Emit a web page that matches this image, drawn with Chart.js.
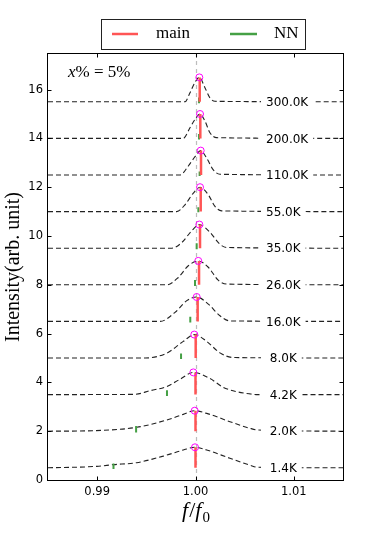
<!DOCTYPE html>
<html>
<head>
<meta charset="utf-8">
<script src="https://cdn.jsdelivr.net/npm/chart.js@4"></script>
<style>
  html, body { margin: 0; padding: 0; background: #fff; }
</style>
</head>
<body>
<canvas id="chart" width="382" height="534"></canvas>
<script>
// temperatures (K) and the vertical offset of each trace
const temps = [1.4, 2.0, 4.2, 8.0, 16, 26, 35, 55, 110, 200, 300];
const baselines = [0.5, 2.0, 3.5, 5.0, 6.5, 8.0, 9.5, 11.0, 12.5, 14.0, 15.5];

// fitted line shapes, [f/f0, intensity]
const fit1p4K = [[0.985, 0.5], [0.98997, 0.56], [0.99166, 0.63], [0.99401, 0.71], [0.99708, 1.02], [0.99876, 1.23], [0.99995, 1.34], [1.00114, 1.23], [1.0035, 0.89], [1.00553, 0.61], [1.00634, 0.52], [1.015, 0.5]];
const fit2p0K = [[0.985, 2.0], [0.9895, 2.02], [0.99403, 2.16], [0.99708, 2.46], [0.99876, 2.69], [0.99992, 2.84], [1.00114, 2.73], [1.0035, 2.39], [1.00553, 2.12], [1.00634, 2.05], [1.015, 2.0]];
const fit4p2K = [[0.985, 3.5], [0.9938, 3.51], [0.99538, 3.66], [0.99708, 3.83], [0.99843, 4.13], [0.99978, 4.41], [1.00147, 4.16], [1.00282, 3.8], [1.00418, 3.62], [1.00553, 3.53], [1.00634, 3.5], [1.015, 3.5]];
const fit8p0K = [[0.985, 5.0], [0.9949, 5.0], [0.99708, 5.2], [0.99876, 5.68], [0.99988, 5.96], [1.00114, 5.68], [1.00249, 5.21], [1.00384, 5.02], [1.015, 5.0]];
const fit16K = [[0.985, 6.5], [0.9964, 6.5], [0.99792, 6.87], [0.99911, 7.35], [1.00012, 7.5], [1.0013, 7.21], [1.00249, 6.73], [1.0035, 6.52], [1.015, 6.5]];
const fit26K = [[0.985, 8.0], [0.99708, 8.0], [0.99825, 8.3], [0.99927, 8.78], [1.00028, 8.98], [1.0013, 8.72], [1.00231, 8.19], [1.00317, 8.03], [1.015, 8.0]];
const fit35K = [[0.985, 9.5], [0.99758, 9.5], [0.9986, 9.73], [0.99961, 10.21], [1.00039, 10.47], [1.00147, 10.15], [1.00249, 9.66], [1.00317, 9.53], [1.015, 9.5]];
const fit55K = [[0.985, 11.0], [0.99809, 11.0], [0.99893, 11.28], [0.99978, 11.76], [1.00046, 12.0], [1.0013, 11.69], [1.00198, 11.21], [1.00266, 11.03], [1.015, 11.0]];
const fit110K = [[0.985, 12.5], [0.99843, 12.5], [0.99927, 12.87], [0.99995, 13.25], [1.00053, 13.5], [1.00114, 13.19], [1.00181, 12.71], [1.00249, 12.53], [1.015, 12.5]];
const fit200K = [[0.985, 14.0], [0.99876, 14.0], [0.99944, 14.44], [0.99995, 14.78], [1.00046, 15.0], [1.00096, 14.71], [1.00147, 14.23], [1.00215, 14.03], [1.015, 14.0]];
const fit300K = [[0.985, 15.5], [0.99893, 15.5], [0.99944, 15.87], [0.99995, 16.3], [1.00039, 16.5], [1.00096, 16.08], [1.00147, 15.66], [1.00198, 15.52], [1.015, 15.5]];
const curves = [fit1p4K, fit2p0K, fit4p2K, fit8p0K, fit16K, fit26K, fit35K, fit55K, fit110K, fit200K, fit300K];

// peak maxima (circles)
const peakF = [0.99995, 0.99992, 0.99978, 0.99988, 1.00012, 1.00028, 1.00039, 1.00046, 1.00053, 1.00046, 1.00039];
const peakV = [1.34, 2.84, 4.41, 5.96, 7.5, 8.98, 10.47, 12.0, 13.5, 15.0, 16.5];

// main line position (bar from baseline to peak)
const mainF = [1.0, 1.0, 1.0, 1.00002, 1.00022, 1.00036, 1.00046, 1.00053, 1.00056, 1.00049, 1.00043];

// nearest-neighbour line
const nnF = [0.99166, 0.99396, 0.9971, 0.99853, 0.99947, 0.99995, 1.00012, 1.00029, 1.00042, 1.00036, 1.00036];
const nnLo = [0.45, 1.95, 3.44, 4.96, 6.46, 7.95, 9.46, 10.97, 12.46, 13.96, 15.44];
const nnHi = [0.68, 2.21, 3.68, 5.18, 6.69, 8.2, 9.7, 11.18, 12.64, 14.18, 15.68];

const xTicks = [0.99, 1.0, 1.01];
const yTicks = [0, 2, 4, 6, 8, 10, 12, 14, 16];

const mainColor = '#ff5555';
const nnColor = '#45a045';
const labelF = 1.00717;

function bars(xs, lo, hi) {
  const out = [];
  xs.forEach((f, i) => {
    out.push({ x: f, y: lo[i] }, { x: f, y: hi[i] }, { x: f, y: null });
  });
  return out;
}

const datasets = [
  {
    type: 'scatter',
    data: peakF.map((f, i) => ({ x: f, y: peakV[i] })),
    pointRadius: 3.5,
    pointBorderWidth: 1,
    pointBorderColor: '#ff00ff',
    pointBackgroundColor: 'rgba(0,0,0,0)'
  },
  {
    type: 'line',
    data: bars(mainF, baselines, peakV),
    borderColor: mainColor,
    borderWidth: 2.5,
    borderCapStyle: 'butt',
    pointRadius: 0,
    spanGaps: false
  },
  {
    type: 'line',
    data: bars(nnF, nnLo, nnHi),
    borderColor: nnColor,
    borderWidth: 2,
    borderCapStyle: 'butt',
    pointRadius: 0,
    spanGaps: false
  }
];

curves.forEach((c) => {
  datasets.push({
    type: 'line',
    data: c.map(([f, v]) => ({ x: f, y: v })),
    borderColor: '#222',
    borderWidth: 1.1,
    borderDash: [5, 3],
    pointRadius: 0,
    cubicInterpolationMode: 'monotone',
    fill: false
  });
});

const decorations = {
  id: 'decorations',
  beforeDatasetsDraw(chart) {
    const { ctx, chartArea: a, scales: { x } } = chart;
    const px = Math.round(x.getPixelForValue(1.0)) + 0.5;
    ctx.save();
    ctx.strokeStyle = '#bdbdbd';
    ctx.lineWidth = 1.2;
    ctx.setLineDash([4, 4]);
    ctx.beginPath();
    ctx.moveTo(px, a.top);
    ctx.lineTo(px, a.bottom);
    ctx.stroke();
    ctx.restore();
  },
  afterDatasetsDraw(chart) {
    // temperature labels, white box behind
    const { ctx, scales: { x, y } } = chart;
    ctx.save();
    ctx.font = '12px "DejaVu Sans"';
    ctx.textBaseline = 'middle';
    temps.forEach((t, i) => {
      const txt = t.toFixed(1).padStart(4, ' ') + 'K';
      const tx = x.getPixelForValue(labelF);
      const ty = y.getPixelForValue(baselines[i]);
      const w = ctx.measureText(txt).width;
      ctx.fillStyle = '#fff';
      ctx.fillRect(tx - 5, ty - 8, w + 10, 16);
      ctx.fillStyle = '#000';
      ctx.fillText(txt, tx, ty + 1);
    });
    ctx.restore();
  },
  afterDraw(chart) {
    const { ctx, scales: { x, y } } = chart;
    const L = 47.5, R = 343.5, T = 53.5, B = 480.5;
    ctx.save();
    // frame
    ctx.strokeStyle = '#000';
    ctx.lineWidth = 1;
    ctx.strokeRect(L, T, R - L, B - T);
    // inward ticks on all sides
    ctx.beginPath();
    xTicks.forEach((v) => {
      const px = Math.round(x.getPixelForValue(v)) + 0.5;
      ctx.moveTo(px, B); ctx.lineTo(px, B - 4);
      ctx.moveTo(px, T); ctx.lineTo(px, T + 4);
    });
    yTicks.forEach((v) => {
      const py = Math.round(y.getPixelForValue(v)) + 0.5;
      ctx.moveTo(L, py); ctx.lineTo(L + 4, py);
      ctx.moveTo(R, py); ctx.lineTo(R - 4, py);
    });
    ctx.stroke();

    // legend
    ctx.strokeStyle = '#222';
    ctx.strokeRect(101.5, 19.5, 204, 30);
    ctx.lineWidth = 2.5;
    ctx.strokeStyle = mainColor;
    ctx.beginPath(); ctx.moveTo(112, 34); ctx.lineTo(138, 34); ctx.stroke();
    ctx.strokeStyle = nnColor;
    ctx.beginPath(); ctx.moveTo(230, 34); ctx.lineTo(257, 34); ctx.stroke();
    ctx.fillStyle = '#000';
    ctx.font = '17px "Liberation Serif"';
    ctx.textBaseline = 'middle';
    ctx.fillText('main', 156, 34);
    ctx.fillText('NN', 274, 34);

    // x% = 5%
    ctx.textBaseline = 'alphabetic';
    ctx.font = 'italic 17px "Liberation Serif"';
    ctx.fillText('x', 68, 77);
    const cx = 68 + ctx.measureText('x').width;
    ctx.font = '17px "Liberation Serif"';
    ctx.fillText('% = 5%', cx, 77);

    // y axis title
    ctx.save();
    ctx.translate(19, 267);
    ctx.rotate(-Math.PI / 2);
    ctx.textAlign = 'center';
    ctx.font = '20px "Liberation Serif"';
    ctx.fillText('Intensity(arb. unit)', 0, 0);
    ctx.restore();

    // x axis title f/f0
    const fi = 'italic 22px "Liberation Serif"';
    const fr = '22px "Liberation Serif"';
    const fs = '15px "Liberation Serif"';
    ctx.font = fi; const w1 = ctx.measureText('f').width;
    ctx.font = fr; const w2 = ctx.measureText('/').width;
    ctx.font = fs; const w3 = ctx.measureText('0').width;
    let sx = 196 - (w1 * 2 + w2 + w3 + 2) / 2;
    ctx.font = fi; ctx.fillText('f', sx, 517); sx += w1 + 1;
    ctx.font = fr; ctx.fillText('/', sx, 517); sx += w2;
    ctx.font = fi; ctx.fillText('f', sx, 517); sx += w1 + 1;
    ctx.font = fs; ctx.fillText('0', sx, 522);
    ctx.restore();
  }
};

new Chart(document.getElementById('chart'), {
  type: 'scatter',
  data: { datasets: datasets },
  options: {
    responsive: false,
    animation: false,
    devicePixelRatio: 1,
    events: [],
    layout: { padding: { top: 53, right: 39, left: 0, bottom: 0 } },
    plugins: { legend: { display: false }, tooltip: { enabled: false } },
    scales: {
      x: {
        type: 'linear',
        min: 0.985,
        max: 1.015,
        offset: false,
        afterFit: (s) => { s.height = 54; },
        afterBuildTicks: (s) => { s.ticks = xTicks.map((v) => ({ value: v })); },
        grid: { display: false, drawTicks: false },
        border: { display: false },
        ticks: {
          padding: 5,
          color: '#000',
          maxRotation: 0,
          autoSkip: false,
          font: { family: 'DejaVu Sans', size: 11.5 },
          callback: (v) => Number(v).toFixed(2)
        }
      },
      y: {
        type: 'linear',
        min: 0,
        max: 17.5,
        afterFit: (s) => { s.width = 48; },
        afterBuildTicks: (s) => { s.ticks = yTicks.map((v) => ({ value: v })); },
        grid: { display: false, drawTicks: false },
        border: { display: false },
        ticks: {
          padding: 5,
          color: '#000',
          autoSkip: false,
          font: { family: 'DejaVu Sans', size: 11.5 },
          callback: (v) => String(v)
        }
      }
    }
  },
  plugins: [decorations]
});
</script>
</body>
</html>
